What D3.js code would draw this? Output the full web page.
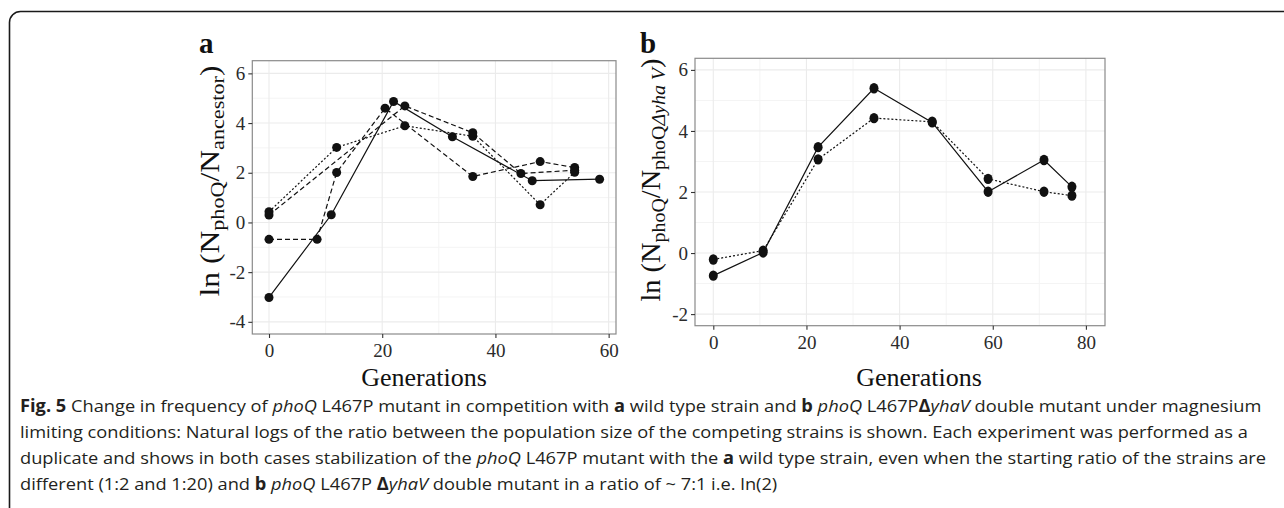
<!DOCTYPE html>
<html><head><meta charset="utf-8">
<script src="https://cdn.jsdelivr.net/npm/d3@7"></script>
<style>
html,body{margin:0;padding:0;background:#fff;}
svg{display:block;}
</style></head>
<body>
<svg id="chart" width="1284" height="508"></svg>
<script>
// ---------- data ----------
// Panel a: four replicate series (generations, ln ratio)
const genA_solid = [0, 11, 22, 32.4, 46.5, 58.4];
const lnA_solid  = [-3.02, 0.31, 4.87, 3.45, 1.68, 1.74];
const genA_dot   = [0, 11.95, 24, 36, 47.9, 54];
const lnA_dot    = [0.43, 3.02, 3.89, 3.47, 0.71, 2.02];
const genA_dash1 = [0, 8.5, 11.95, 20.5, 36, 47.9, 54];
const lnA_dash1  = [-0.68, -0.68, 2.01, 4.6, 1.85, 2.45, 2.21];
const genA_dash2 = [0, 24, 36, 44.5, 54];
const lnA_dash2  = [0.3, 4.69, 3.61, 1.97, 2.1];
// Panel b: two replicate series
const genB       = [0, 10.7, 22.5, 34.5, 47, 59, 71, 77];
const lnB_solid  = [-0.74, 0.02, 3.47, 5.40, 4.28, 2.01, 3.05, 2.17];
const lnB_dot    = [-0.21, 0.08, 3.07, 4.42, 4.3, 2.43, 2.01, 1.88];
// ticks
const xTicksA = [0, 20, 40, 60];
const xMinorA = [10, 30, 50];
const yTicksA = [-4, -2, 0, 2, 4, 6];
const yMinorA = [-3, -1, 1, 3, 5];
const xTicksB = [0, 20, 40, 60, 80];
const xMinorB = [10, 30, 50, 70];
const yTicksB = [-2, 0, 2, 4, 6];
const yMinorB = [-1, 1, 3, 5];

const svg = d3.select("#chart");
const serif = "'Liberation Serif','DejaVu Serif',serif";

// outer frame
svg.append("rect").attr("x", 9.5).attr("y", 11.5).attr("width", 1400).attr("height", 600)
  .attr("rx", 11).attr("fill", "none").attr("stroke", "#1a1a1a").attr("stroke-width", 1.6);

function panel(cfg) {
  const x = d3.scaleLinear().domain(cfg.xd).range([cfg.l, cfg.r]);
  const y = d3.scaleLinear().domain(cfg.yd).range([cfg.b, cfg.t]);
  const g = svg.append("g");
  g.append("rect").attr("x", cfg.l).attr("y", cfg.t).attr("width", cfg.r - cfg.l).attr("height", cfg.b - cfg.t).attr("fill", "#fff");
  // minor grid
  g.selectAll(null).data(cfg.xMinor).enter().append("line")
    .attr("x1", d => x(d)).attr("x2", d => x(d)).attr("y1", cfg.t).attr("y2", cfg.b)
    .attr("stroke", "#f4f4f4").attr("stroke-width", 1);
  g.selectAll(null).data(cfg.yMinor).enter().append("line")
    .attr("y1", d => y(d)).attr("y2", d => y(d)).attr("x1", cfg.l).attr("x2", cfg.r)
    .attr("stroke", "#f4f4f4").attr("stroke-width", 1);
  // major grid
  g.selectAll(null).data(cfg.xTicks).enter().append("line")
    .attr("x1", d => x(d)).attr("x2", d => x(d)).attr("y1", cfg.t).attr("y2", cfg.b)
    .attr("stroke", "#ebebeb").attr("stroke-width", 1.1);
  g.selectAll(null).data(cfg.yTicks).enter().append("line")
    .attr("y1", d => y(d)).attr("y2", d => y(d)).attr("x1", cfg.l).attr("x2", cfg.r)
    .attr("stroke", "#ebebeb").attr("stroke-width", 1.1);

  // series
  cfg.series.forEach(s => {
    const pts = s.x.map((v, i) => [v, s.y[i]]);
    g.append("path").datum(pts)
      .attr("d", d3.line().x(d => x(d[0])).y(d => y(d[1])))
      .attr("fill", "none").attr("stroke", "#111").attr("stroke-width", 1.2)
      .attr("stroke-dasharray", s.dash);
  });
  cfg.series.forEach(s => {
    const pts = s.x.map((v, i) => [v, s.y[i]]);
    g.selectAll(null).data(pts).enter().append("ellipse")
      .attr("cx", d => x(d[0])).attr("cy", d => y(d[1]))
      .attr("rx", 4.5).attr("ry", cfg.ry).attr("fill", "#111");
  });

  // border
  g.append("rect").attr("x", cfg.l).attr("y", cfg.t).attr("width", cfg.r - cfg.l).attr("height", cfg.b - cfg.t)
    .attr("fill", "none").attr("stroke", "#8a8a8a").attr("stroke-width", 1.2);

  // axes
  const xa = svg.append("g").attr("transform", `translate(0,${cfg.b})`)
    .call(d3.axisBottom(x).tickValues(cfg.xTicks).tickSize(4).tickPadding(6).tickFormat(d3.format("d")));
  const ya = svg.append("g").attr("transform", `translate(${cfg.l},0)`)
    .call(d3.axisLeft(y).tickValues(cfg.yTicks).tickSize(4).tickPadding(3).tickFormat(d => d < 0 ? "-" + Math.abs(d) : d));
  [xa, ya].forEach(a => {
    a.select(".domain").remove();
    a.selectAll(".tick line").attr("stroke", "#333").attr("stroke-width", 1.1);
    a.selectAll(".tick text").attr("fill", "#2b2b2b").style("font-family", serif).style("font-size", "19px");
  });

  // x title
  svg.append("text").attr("x", cfg.xtx).attr("y", 386).attr("text-anchor", "middle")
    .style("font-family", serif).style("font-size", "26px").attr("fill", "#111").text("Generations");

  // panel letter
  svg.append("text").attr("x", cfg.lx).attr("y", 53)
    .style("font-family", serif).style("font-size", "29px").style("font-weight", "bold").attr("fill", "#111").text(cfg.letter);
  return { x, y };
}

panel({
  l: 252.3, r: 616, t: 60.7, b: 334, xd: [-2.95, 61.3], yd: [-4.49, 6.51], ry: 4.5,
  xTicks: xTicksA, xMinor: xMinorA, yTicks: yTicksA, yMinor: yMinorA,
  xtx: 424, lx: 199, letter: "a",
  series: [
    { x: genA_solid, y: lnA_solid, dash: null },
    { x: genA_dot, y: lnA_dot, dash: "2,2" },
    { x: genA_dash1, y: lnA_dash1, dash: "5,3" },
    { x: genA_dash2, y: lnA_dash2, dash: "5,3" }
  ]
});
panel({
  l: 695, r: 1105, t: 58.3, b: 325.7, xd: [-3.93, 84.1], yd: [-2.38, 6.38], ry: 5.2,
  xTicks: xTicksB, xMinor: xMinorB, yTicks: yTicksB, yMinor: yMinorB,
  xtx: 919, lx: 640, letter: "b",
  series: [
    { x: genB, y: lnB_solid, dash: null },
    { x: genB, y: lnB_dot, dash: "2,2" }
  ]
});

// y titles
function ytitle(cx, cy, len, parts) {
  const t = svg.append("text").attr("transform", `translate(${cx},${cy}) rotate(-90)`)
    .attr("text-anchor", "middle").style("font-family", serif).attr("fill", "#111")
    .attr("textLength", len).attr("lengthAdjust", "spacingAndGlyphs");
  parts.forEach(p => {
    const ts = t.append("tspan").text(p.t).style("font-size", p.sub ? "19px" : "27px");
    if (p.dy) ts.attr("dy", p.dy);
    if (p.it) ts.style("font-style", "italic");
  });
}
ytitle(219, 181, 231, [
  { t: "ln (" }, { t: "N" }, { t: "phoQ", sub: true, dy: 5 }, { t: "/", dy: -5 }, { t: "N" },
  { t: "ancestor", sub: true, dy: 5 }, { t: ")", dy: -5 }
]);
ytitle(660, 180, 243, [
  { t: "ln (" }, { t: "N" }, { t: "phoQ", sub: true, dy: 5 }, { t: "/", dy: -5 }, { t: "N" },
  { t: "phoQ", sub: true, dy: 5 }, { t: "Δyha V", sub: true, it: true }, { t: ")", dy: -5 }
]);

// caption
const capFont = "'Open Sans','Liberation Sans',sans-serif";
const capLines = [
  { y: 412, parts: [["Fig. 5", "b"], [" Change in frequency of "], ["phoQ", "i"], [" L467P mutant in competition with "], ["a", "b"], [" wild type strain and "], ["b", "b"], [" "], ["phoQ", "i"], [" L467P"], ["Δ", "b"], ["yhaV", "i"], [" double mutant under magnesium"]] },
  { y: 438, parts: [["limiting conditions: Natural logs of the ratio between the population size of the competing strains is shown. Each experiment was performed as a"]] },
  { y: 464, parts: [["duplicate and shows in both cases stabilization of the "], ["phoQ", "i"], [" L467P mutant with the "], ["a", "b"], [" wild type strain, even when the starting ratio of the strains are"]] },
  { y: 490, parts: [["different (1:2 and 1:20) and "], ["b", "b"], [" "], ["phoQ", "i"], [" L467P "], ["Δ", "b"], ["yhaV", "i"], [" double mutant in a ratio of ~ 7:1 i.e. ln(2)"]] }
];
const firstLineWidth = 1242;
let k = null;
capLines.forEach((L, i) => {
  const t = svg.append("text").attr("x", 0).attr("y", 0)
    .style("font-family", capFont).style("font-size", "17px").attr("fill", "#231f20");
  L.parts.forEach(p => {
    const ts = t.append("tspan").text(p[0]);
    if (p[1] === "b") ts.style("font-weight", "bold");
    if (p[1] === "i") ts.style("font-style", "italic");
  });
  if (k === null) k = firstLineWidth / t.node().getComputedTextLength();
  t.attr("transform", `translate(20,${L.y}) scale(${k},1)`);
});
</script>
</body></html>
